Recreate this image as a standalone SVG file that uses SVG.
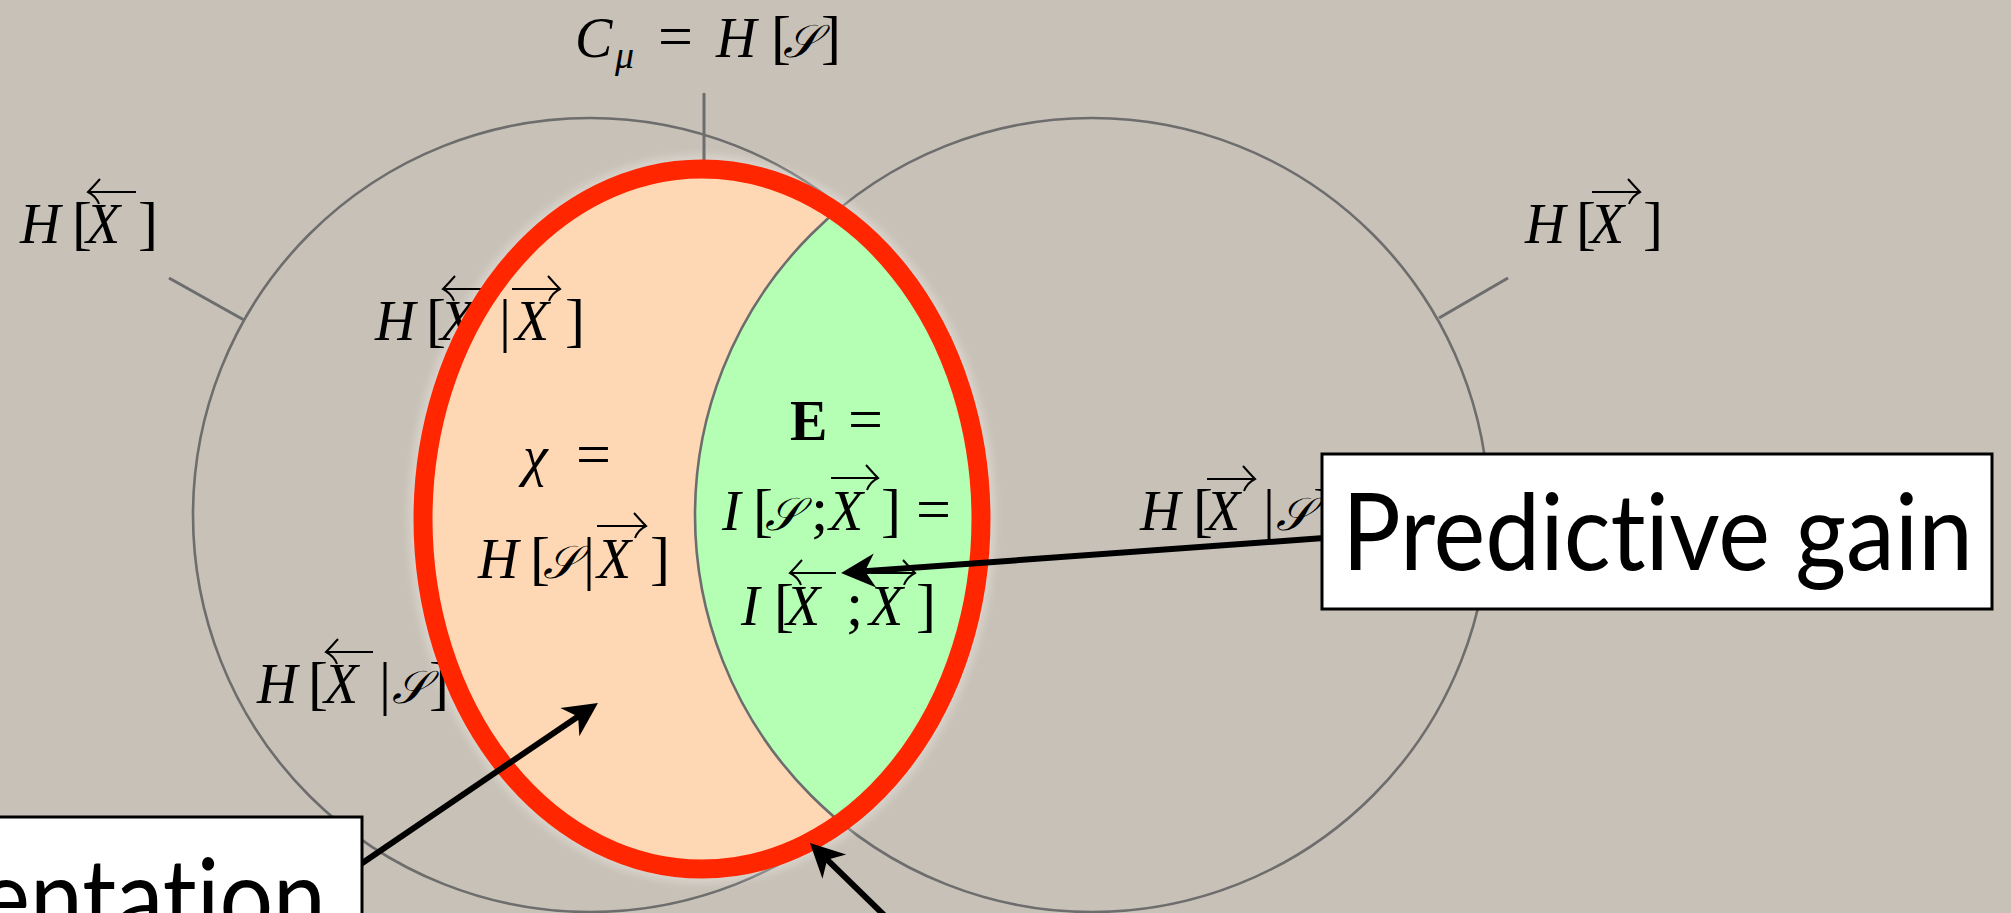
<svg xmlns="http://www.w3.org/2000/svg" width="2011" height="913" viewBox="0 0 2011 913">
<style>
.bg{fill:#c8c1b7}
.circ{fill:none;stroke:#6d6d6d;stroke-width:2.6}
.tick{stroke:#6d6d6d;stroke-width:3;fill:none}
.m{font-family:"Liberation Serif","DejaVu Serif",serif;font-style:italic;font-size:56px;fill:#000}
.u{font-style:normal;font-size:62px}
.br{font-style:normal;font-size:60px}
.sub{font-size:38px}
.sc{font-size:46px}
.bf{font-style:normal;font-weight:bold}
.acc{fill:none;stroke:#000;stroke-width:2}
.conn{stroke:#000;stroke-width:6;fill:none;marker-end:url(#ah)}
.box{fill:#fff;stroke:#000;stroke-width:3}
.big{font-family:Lato,"Open Sans","Liberation Sans",sans-serif;font-size:106px;fill:#000;font-variant-ligatures:none}
</style>
<defs>
<marker id="ah" markerUnits="userSpaceOnUse" viewBox="-36 -18 38 36" markerWidth="38" markerHeight="36" refX="-20" refY="0" orient="auto">
<path d="M0,0 L-34,-17 L-24,0 L-34,17 Z" fill="#000"/>
</marker>
<clipPath id="ellClip"><ellipse cx="702" cy="519" rx="279" ry="350"/></clipPath>
<filter id="blur" x="-20%" y="-20%" width="140%" height="140%"><feGaussianBlur stdDeviation="4"/></filter>
</defs>
<rect class="bg" x="0" y="0" width="2011" height="913"/>

<g id="venn">
<circle class="circ" cx="590" cy="515" r="397"/>
<circle class="circ" cx="1092" cy="515" r="397"/>
</g>

<g id="halo">
<ellipse cx="702" cy="519" rx="279" ry="350" fill="none" stroke="#ffffff" stroke-opacity="0.3" stroke-width="28" filter="url(#blur)"/>
</g>

<g id="region-chi">
<ellipse cx="702" cy="519" rx="279" ry="350" fill="#fed8b4"/>
</g>
<g id="region-E" clip-path="url(#ellClip)">
<circle cx="1092" cy="515" r="397" fill="#b4ffb4" stroke="#6d6d6d" stroke-width="2.6"/>
</g>

<g id="ticks">
<line class="tick" x1="704" y1="93" x2="704" y2="166"/>
<line class="tick" x1="169" y1="278" x2="244" y2="320"/>
<line class="tick" x1="1508" y1="278" x2="1439" y2="318"/>
</g>

<g id="label-cmu">
<text class="m" y="57"><tspan x="575">C</tspan><tspan class="sub" x="615" y="68">μ</tspan><tspan class="u" x="658" y="57">=</tspan><tspan x="716">H</tspan><tspan class="br" x="771">[</tspan><tspan class="sc" x="783">𝒮</tspan><tspan class="br" x="821">]</tspan></text>
</g>

<g id="label-hpast">
<text class="m" y="243"><tspan x="20">H</tspan><tspan class="br" x="72">[</tspan><tspan x="86">X</tspan><tspan class="br" x="138">]</tspan></text>
<path class="acc" d="M88,192 H136 M100,179 Q92,188 88,192 Q96,196 99,204"/>
</g>

<g id="label-hfuture">
<text class="m" y="243"><tspan x="1525">H</tspan><tspan class="br" x="1576">[</tspan><tspan x="1590">X</tspan><tspan class="br" x="1643">]</tspan></text>
<path class="acc" d="M1592,192 H1640 M1628,179 Q1636,188 1640,192 Q1632,196 1629,204"/>
</g>

<g id="label-hpast-given-future">
<text class="m" y="340"><tspan x="375">H</tspan><tspan class="br" x="426">[</tspan><tspan x="440">X</tspan><tspan class="br" x="499">|</tspan><tspan x="515">X</tspan><tspan class="br" x="565">]</tspan></text>
<path class="acc" d="M443,289 H482 M455,276 Q447,285 443,289 Q451,293 454,301"/>
<path class="acc" d="M512,289 H560 M548,276 Q556,285 560,289 Q552,293 549,301"/>
</g>

<g id="label-chi">
<text class="m" y="475"><tspan x="523">χ</tspan><tspan class="u" x="576">=</tspan></text>
<text class="m" y="578"><tspan x="478">H</tspan><tspan class="br" x="530">[</tspan><tspan class="sc" x="543">𝒮</tspan><tspan class="br" x="583">|</tspan><tspan x="597">X</tspan><tspan class="br" x="650">]</tspan></text>
<path class="acc" d="M597,526 H646 M634,513 Q642,522 646,526 Q638,530 635,538"/>
</g>

<g id="label-E">
<text class="m" y="440"><tspan class="bf" x="790">E</tspan><tspan class="u" x="848">=</tspan></text>
<text class="m" y="530"><tspan x="722">I</tspan><tspan class="br" x="753">[</tspan><tspan class="sc" x="765">𝒮</tspan><tspan class="u" x="811">;</tspan><tspan x="829">X</tspan><tspan class="br" x="881">]</tspan><tspan class="u" x="916">=</tspan></text>
<path class="acc" d="M831,478 H878 M866,465 Q874,474 878,478 Q870,482 867,490"/>
<text class="m" y="625"><tspan x="741">I</tspan><tspan class="br" x="774">[</tspan><tspan x="786">X</tspan><tspan class="u" x="846">;</tspan><tspan x="869">X</tspan><tspan class="br" x="916">]</tspan></text>
<path class="acc" d="M790,573 H836 M802,560 Q794,569 790,573 Q798,577 801,585"/>
<path class="acc" d="M871,573 H915 M903,560 Q911,569 915,573 Q907,577 904,585"/>
</g>

<g id="label-hpast-given-s">
<text class="m" y="703"><tspan x="257">H</tspan><tspan class="br" x="308">[</tspan><tspan x="324">X</tspan><tspan class="br" x="379">|</tspan><tspan class="sc" x="392">𝒮</tspan><tspan class="br" x="429">]</tspan></text>
<path class="acc" d="M326,652 H373 M338,639 Q330,648 326,652 Q334,656 337,664"/>
</g>

<g id="label-hfuture-given-s">
<text class="m" y="530"><tspan x="1140">H</tspan><tspan class="br" x="1193">[</tspan><tspan x="1206">X</tspan><tspan class="br" x="1263">|</tspan><tspan class="sc" x="1276">𝒮</tspan><tspan class="br" x="1313">]</tspan></text>
<path class="acc" d="M1207,479 H1255 M1243,466 Q1251,475 1255,479 Q1247,483 1244,491"/>
</g>

<g id="red-ellipse">
<ellipse cx="702" cy="519" rx="279" ry="350" fill="none" stroke="#ff2600" stroke-width="19"/>
</g>

<g id="connectors">
<line class="conn" x1="1324" y1="538" x2="861" y2="571.5"/>
<line class="conn" x1="355" y1="868" x2="581.4" y2="714.2"/>
<line class="conn" x1="887" y1="918" x2="824.3" y2="856.9"/>
</g>

<g id="box-predictive">
<rect class="box" x="1322" y="454" width="670" height="155"/>
<text class="big" x="1342" y="570" textLength="631" lengthAdjust="spacingAndGlyphs">Predictive gain</text>
</g>

<g id="box-representation">
<rect class="box" x="-10" y="817" width="372" height="120"/>
<text class="big" x="326" y="935" text-anchor="end" textLength="346" lengthAdjust="spacingAndGlyphs">entation</text>
</g>
</svg>
